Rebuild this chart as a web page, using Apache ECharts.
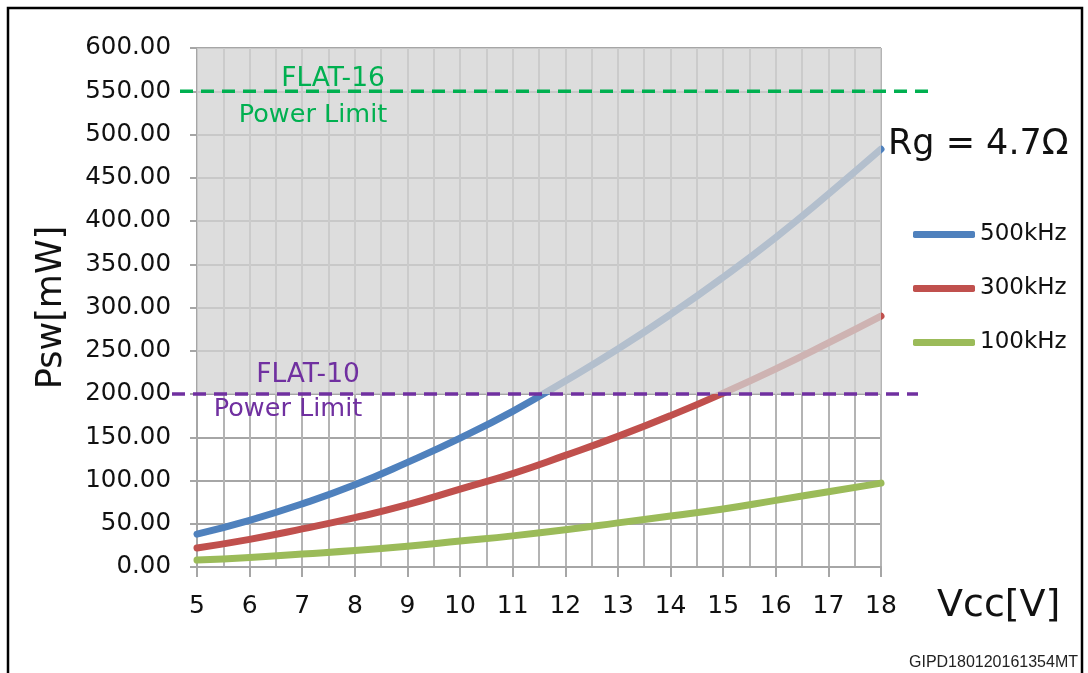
<!DOCTYPE html>
<html>
<head>
<meta charset="utf-8">
<script src="https://cdn.jsdelivr.net/npm/echarts@6/dist/echarts.min.js"></script>
<style>
html,body{margin:0;padding:0;background:#fff;}
#chart{width:1088px;height:673px;}
</style>
</head>
<body>
<div id="chart"></div>
<script>
// ---- data ----
const vcc = [5, 6, 7, 8, 9, 10, 11, 12, 13, 14, 15, 16, 17, 18];
const p500 = [38, 54, 73, 95, 121, 149, 180, 215, 252, 292, 335, 381, 431, 483];
const p300 = [22, 32, 44, 57, 72, 90, 108, 129, 151, 175, 201, 229, 259, 290];
const p100 = [8, 11, 15, 19, 24, 30, 36, 43, 51, 59, 67, 77, 87, 97];
const seriesNames = ['500kHz', '300kHz', '100kHz'];
const limitFlat16 = 550;
const limitFlat10 = 200;
const yMax = 600;

const FONT = 'DejaVu Sans';
const chart = echarts.init(document.getElementById('chart'), null, {renderer: 'canvas'});

function pairs(ys) { return vcc.map((v, i) => [v, ys[i]]); }

const option = {
  animation: false,
  backgroundColor: '#ffffff',
  grid: {left: 197, right: 207, top: 48, bottom: 106, containLabel: false},
  legend: {
    orient: 'vertical',
    left: 908, top: 218,
    itemWidth: 62, itemHeight: 7, itemGap: 31,
    data: seriesNames,
    textStyle: {fontFamily: FONT, fontSize: 23, color: '#111'},
    icon: 'roundRect'
  },
  xAxis: {
    type: 'value', min: 5, max: 18, interval: 1,
    name: 'Vcc[V]', nameLocation: 'end', nameGap: 56,
    nameTextStyle: {fontFamily: FONT, fontSize: 38, color: '#111', align: 'left', verticalAlign: 'top', padding: [20, 0, 0, 0]},
    axisLine: {show: true, lineStyle: {color: '#a6a6a6', width: 2}},
    axisTick: {show: true, length: 10, lineStyle: {color: '#a6a6a6', width: 2}},
    axisLabel: {fontFamily: FONT, fontSize: 25, color: '#111', margin: 27},
    splitLine: {show: true, lineStyle: {color: '#b4b4b4', width: 2}},
    minorTick: {show: false, splitNumber: 2},
    minorSplitLine: {show: true, lineStyle: {color: '#b4b4b4', width: 2}}
  },
  yAxis: {
    type: 'value', min: 0, max: yMax, interval: 50,
    name: 'Psw[mW]', nameLocation: 'middle', nameRotate: 90, nameGap: 128,
    nameTextStyle: {fontFamily: FONT, fontSize: 35, color: '#111'},
    axisLine: {show: true, lineStyle: {color: '#a6a6a6', width: 2}},
    axisTick: {show: true, length: 7, lineStyle: {color: '#a6a6a6', width: 2}},
    axisLabel: {fontFamily: FONT, fontSize: 24.5, color: '#111', margin: 26, formatter: v => v.toFixed(2)},
    splitLine: {show: true, lineStyle: {color: '#a6a6a6', width: 2}}
  },
  series: [
    {name: seriesNames[0], type: 'line', smooth: true, showSymbol: false, symbol: 'none', z: 3,
     data: pairs(p500), color: '#4f81bd', lineStyle: {width: 7, color: '#4f81bd', cap: 'round'}},
    {name: seriesNames[1], type: 'line', smooth: true, showSymbol: false, symbol: 'none', z: 3,
     data: pairs(p300), color: '#c0504d', lineStyle: {width: 7, color: '#c0504d', cap: 'round'}},
    {name: seriesNames[2], type: 'line', smooth: true, showSymbol: false, symbol: 'none', z: 3,
     data: pairs(p100), color: '#9bbb59', lineStyle: {width: 7, color: '#9bbb59', cap: 'round'}},
    {name: 'overlay', type: 'line', symbol: 'none', silent: true, z: 6,
     data: [[vcc[0], yMax], [vcc[vcc.length - 1], yMax]],
     lineStyle: {width: 0, opacity: 0},
     areaStyle: {origin: limitFlat10, color: 'rgba(210,210,210,0.76)', opacity: 1}}
  ]
};
chart.setOption(option);

function drawExtras() {
  const xL = chart.convertToPixel({xAxisIndex: 0}, 5);
  const xR = chart.convertToPixel({xAxisIndex: 0}, 18);
  const y16 = chart.convertToPixel({yAxisIndex: 0}, limitFlat16);
  const y10 = chart.convertToPixel({yAxisIndex: 0}, limitFlat10);
  const green = '#00b050', purple = '#7030a0';
  const dash = [13, 8];
  chart.setOption({
    graphic: [
      {type: 'rect', z: 200, silent: true, shape: {x: 8, y: 8, width: 1074, height: 700},
       style: {fill: 'none', stroke: '#000', lineWidth: 2.5}},
      {type: 'line', z: 100, silent: true, shape: {x1: xL - 17, y1: y16, x2: xR + 47, y2: y16},
       style: {stroke: green, lineWidth: 3.5, lineDash: dash}},
      {type: 'line', z: 100, silent: true, shape: {x1: xL - 25, y1: y10, x2: xR + 37, y2: y10},
       style: {stroke: purple, lineWidth: 3.5, lineDash: dash}},
      {type: 'text', z: 100, x: 333, y: y16 - 12, style: {text: 'FLAT-16', fill: green, font: '26.5px "DejaVu Sans"', align: 'center', verticalAlign: 'middle'}},
      {type: 'text', z: 100, x: 313, y: y16 + 24, style: {text: 'Power Limit', fill: green, font: '25.5px "DejaVu Sans"', align: 'center', verticalAlign: 'middle'}},
      {type: 'text', z: 100, x: 308, y: y10 - 19, style: {text: 'FLAT-10', fill: purple, font: '26.5px "DejaVu Sans"', align: 'center', verticalAlign: 'middle'}},
      {type: 'text', z: 100, x: 288, y: y10 + 15, style: {text: 'Power Limit', fill: purple, font: '25.5px "DejaVu Sans"', align: 'center', verticalAlign: 'middle'}},
      {type: 'text', z: 100, x: 888, y: 145, style: {text: 'Rg = 4.7Ω', fill: '#111', font: '35px "DejaVu Sans"', align: 'left', verticalAlign: 'middle'}},
      {type: 'text', z: 100, x: 1078, y: 663, style: {text: 'GIPD180120161354MT', fill: '#222', font: '16px "Liberation Sans"', align: 'right', verticalAlign: 'middle'}}
    ]
  });
}
drawExtras();
</script>
</body>
</html>
